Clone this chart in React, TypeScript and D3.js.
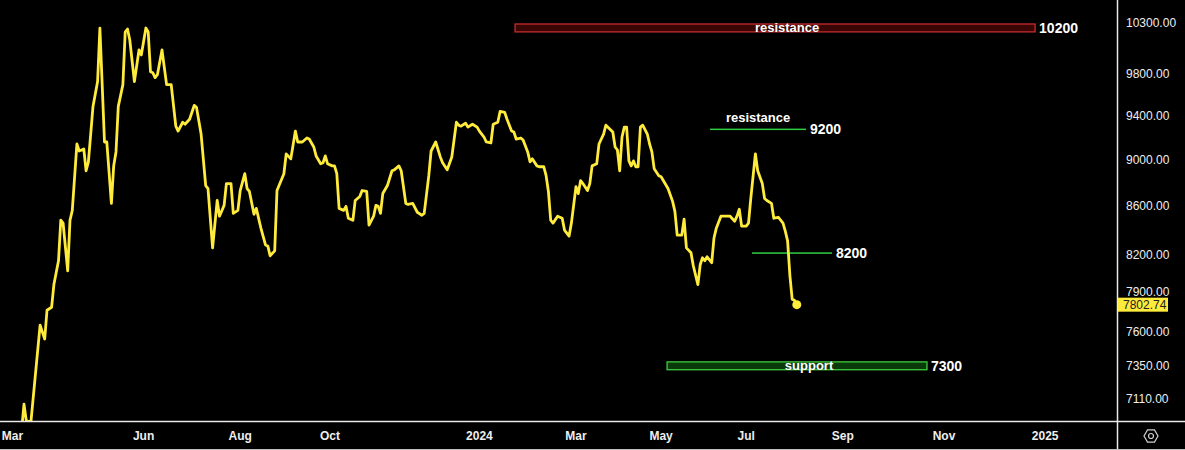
import React from 'react';
import * as d3 from 'd3';

// trading-session index (bars since first visible bar) and close prices
const sessions = [
  -1, 0, 1, 3, 7, 9, 10, 12, 13, 15, 16, 17, 19, 20, 21, 23, 24, 26, 27, 28,
  30, 32, 33, 35, 36, 38, 39, 40, 41, 43, 44, 45, 46, 48, 50, 51, 53, 54, 55, 56,
  57, 58, 60, 62, 64, 66, 67, 69, 70, 72, 74, 75, 77, 79, 80, 82, 84, 85, 87, 88,
  90, 91, 93, 94, 96, 97, 98, 100, 101, 103, 105, 106, 107, 109, 110, 113, 114, 116, 118, 119,
  121, 123, 124, 126, 127, 129, 130, 131, 132, 134, 135, 136, 137, 139, 140, 141, 143, 144, 146, 147,
  149, 150, 152, 153, 154, 155, 156, 158, 160, 161, 163, 164, 166, 167, 169, 171, 173, 174, 176, 177,
  179, 181, 182, 184, 186, 188, 189, 190, 192, 193, 195, 197, 198, 200, 201, 203, 204, 206, 207, 209,
  210, 212, 213, 214, 216, 217, 219, 220, 221, 223, 224, 226, 227, 228, 229, 230, 232, 234, 235, 237,
  238, 240, 241, 242, 243, 245, 246, 247, 249, 250, 252, 253, 256, 257, 258, 259, 260, 261, 262, 263,
  264, 265, 266, 267, 268, 269, 271, 272, 273, 274, 276, 277, 280, 282, 283, 284, 286, 287, 288, 290,
  291, 293, 294, 295, 296, 297, 299, 300, 301, 303, 305, 307, 309, 310, 311, 312, 314, 315, 316, 318,
  319, 321, 322, 323, 325, 326, 328, 330, 331, 332, 333, 334, 335, 336,
];
const closes = [
  6900, 7074, 6958, 6950, 7647, 7543, 7760, 7783, 7959, 8148, 8480, 8456, 8068, 8480, 8563, 9142, 9079, 9097, 8904, 8983,
  9487, 9722, 10249, 9160, 9160, 8622, 8947, 9071, 9487, 9693, 10209, 10239, 10129, 9722, 10030, 9981, 10249, 10209, 9817, 9807,
  9760, 9788, 10030, 9693, 9693, 9304, 9259, 9340, 9322, 9368, 9496, 9478, 9232, 8775, 8749, 8252, 8647, 8514, 8605, 8792,
  8792, 8538, 8563, 8732, 8878, 8749, 8724, 8530, 8580, 8414, 8276, 8268, 8188, 8228, 8732, 8878, 9053, 9009, 9259, 9160,
  9160, 9196, 9187, 9115, 9035, 8965, 8974, 9035, 8965, 8947, 8947, 8878, 8580, 8563, 8597, 8497, 8480, 8647, 8681, 8732,
  8724, 8439, 8514, 8605, 8597, 8538, 8706, 8775, 8904, 8912, 8947, 8904, 8622, 8614, 8622, 8547, 8522, 8538, 8861, 9079,
  9160, 9026, 8974, 8912, 9026, 9340, 9313, 9304, 9331, 9295, 9322, 9295, 9259, 9205, 9160, 9151, 9322, 9340, 9441, 9431,
  9368, 9259, 9250, 9187, 9196, 9178, 9071, 8983, 9009, 8947, 8939, 8939, 8861, 8724, 8480, 8456, 8514, 8497, 8398, 8349,
  8456, 8766, 8706, 8818, 8792, 8732, 8792, 8947, 8965, 9142, 9232, 9313, 9250, 9115, 9088, 8904, 9205, 9295, 9295, 8991,
  8947, 8991, 8939, 8939, 9295, 9313, 9232, 9142, 9071, 8921, 8861, 8852, 8749, 8639, 8555, 8357, 8357, 8489, 8252, 8212,
  8108, 7959, 8116, 8172, 8148, 8180, 8132, 8333, 8414, 8514, 8514, 8514, 8472, 8514, 8572, 8431, 8431, 8456, 8664, 9053,
  8904, 8792, 8664, 8647, 8622, 8497, 8505, 8456, 8390, 8309, 8030, 7844, 7836, 7802.74,
];

const priceTicks = [10300, 9800, 9400, 9000, 8600, 8200, 7900, 7600, 7350, 7110];
const timeLabels = ['Mar', 'Jun', 'Aug', 'Oct', '2024', 'Mar', 'May', 'Jul', 'Sep', 'Nov', '2025'];
const timeLabelSessions = [-5, 52, 94, 133, 198, 240, 277, 314, 356, 400, 444];
const lastPrice = 7802.74;

// drawings: zones (rectangles) and horizontal level lines
const zoneNames = ['resistance', 'support'];
const zoneValues = ['10200', '7300'];
const zoneFrom = [213.5, 279.6];
const zoneTo = [439.6, 392.6];
const zoneTop = [10290, 7375];
const zoneBottom = [10210, 7318];

const levelNames = ['resistance', ''];
const levelValues = ['9200', '8200'];
const levelFrom = [298.3, 316.5];
const levelTo = [340, 351.3];
const levelPrice = [9275, 8210];

const W = 1185;
const H = 450;
const AXIS_X = 1117.5;
const AXIS_Y = 421.5;

export default function App() {
  const x = d3.scaleLinear().domain([0, 475]).range([24, 1116.5]);
  const y = d3.scaleLog().domain([7110, 10300]).range([399, 23]);

  const pts = sessions.map((s, i) => [s, closes[i]] as [number, number]);
  const line = d3
    .line<[number, number]>()
    .x((d) => x(d[0]))
    .y((d) => y(d[1]));

  const lastX = x(sessions[sessions.length - 1]);
  const lastY = y(lastPrice);
  const font = "'Liberation Sans', Arial, sans-serif";

  const zoneStyles = [
    { fill: '#3a0505', stroke: '#d32f2f' },
    { fill: '#0a3a0a', stroke: '#43d943' },
  ];

  return (
    <svg
      width={W}
      height={H}
      style={{ position: 'absolute', left: 0, top: 0, background: '#000', display: 'block' }}
      fontFamily={font}
    >
      <rect x={0} y={0} width={W} height={H} fill="#000" />
      <defs>
        <clipPath id="plot">
          <rect x={0} y={0} width={AXIS_X} height={AXIS_Y} />
        </clipPath>
      </defs>

      {/* zones */}
      {zoneNames.map((name, i) => {
        const x0 = x(zoneFrom[i]);
        const x1 = x(zoneTo[i]);
        const y0 = y(zoneTop[i]);
        const y1 = y(zoneBottom[i]);
        return (
          <g key={'z' + i}>
            <rect
              x={x0}
              y={y0}
              width={x1 - x0}
              height={y1 - y0}
              fill={zoneStyles[i].fill}
              stroke={zoneStyles[i].stroke}
              strokeWidth={1.2}
            />
            <text
              x={(x0 + x1) / 2 + 12}
              y={(y0 + y1) / 2}
              dy="0.35em"
              textAnchor="middle"
              fill="#fff"
              fontSize={13}
              fontWeight="bold"
            >
              {name}
            </text>
            <text
              x={x1 + 4}
              y={(y0 + y1) / 2}
              dy="0.35em"
              fill="#fff"
              fontSize={14}
              fontWeight="bold"
            >
              {zoneValues[i]}
            </text>
          </g>
        );
      })}

      {/* level lines */}
      {levelValues.map((v, i) => {
        const x0 = x(levelFrom[i]);
        const x1 = x(levelTo[i]);
        const yy = y(levelPrice[i]);
        return (
          <g key={'l' + i}>
            <rect x={x0} y={yy - 0.75} width={x1 - x0} height={1.5} fill="#2ecc40" />
            {levelNames[i] && (
              <text
                x={(x0 + x1) / 2}
                y={yy - 7}
                textAnchor="middle"
                fill="#fff"
                fontSize={13}
                fontWeight="bold"
              >
                {levelNames[i]}
              </text>
            )}
            <text x={x1 + 4} y={yy} dy="0.35em" fill="#fff" fontSize={14} fontWeight="bold">
              {v}
            </text>
          </g>
        );
      })}

      {/* price line */}
      <g clipPath="url(#plot)">
        <path
          d={line(pts) || ''}
          fill="none"
          stroke="#ffeb3b"
          strokeWidth={2.8}
          strokeLinejoin="round"
          strokeLinecap="round"
        />
        <circle cx={lastX} cy={lastY} r={4.5} fill="#ffeb3b" />
      </g>

      {/* axes */}
      <line x1={AXIS_X} x2={AXIS_X} y1={0} y2={H} stroke="#e8e8e8" strokeWidth={1.5} />
      <line x1={0} x2={W} y1={AXIS_Y} y2={AXIS_Y} stroke="#e8e8e8" strokeWidth={1.5} />
      <line x1={0} x2={W} y1={449.5} y2={449.5} stroke="#bdbdbd" strokeWidth={1} />

      {priceTicks.map((p) => (
        <text key={'p' + p} x={1126} y={y(p)} dy="0.35em" fill="#eeeeee" fontSize={12}>
          {d3.format('.2f')(p)}
        </text>
      ))}

      {/* last price tag */}
      <rect x={AXIS_X + 0.5} y={lastY - 7} width={50} height={14} fill="#ffeb3b" />
      <text x={1123} y={lastY} dy="0.35em" fill="#222" fontSize={12}>
        {d3.format('.2f')(lastPrice)}
      </text>

      {timeLabels.map((t, i) => (
        <text
          key={'t' + i}
          x={x(timeLabelSessions[i])}
          y={436}
          dy="0.35em"
          textAnchor="middle"
          fill="#eeeeee"
          fontSize={12}
          fontWeight="bold"
        >
          {t}
        </text>
      ))}

      {/* settings icon */}
      <g transform="translate(1151,436)" fill="none" stroke="#cfcfcf" strokeWidth={1.2}>
        <path
          d={
            d3
              .range(6)
              .map((k) => {
                const a = (Math.PI / 3) * k;
                return (k === 0 ? 'M' : 'L') + (7 * Math.cos(a)).toFixed(2) + ',' + (7 * Math.sin(a)).toFixed(2);
              })
              .join('') + 'Z'
          }
        />
        <circle r={2.5} />
      </g>
    </svg>
  );
}
